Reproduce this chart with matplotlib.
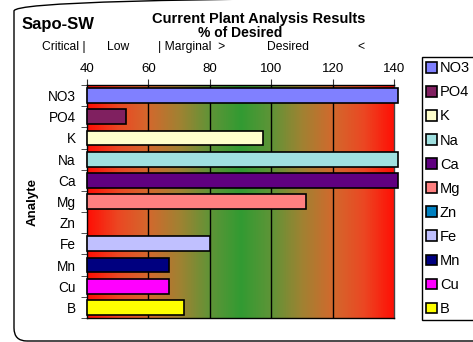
import numpy as np
import matplotlib
matplotlib.use("Agg")
import matplotlib.pyplot as plt
from matplotlib.colors import LinearSegmentedColormap
from matplotlib.patches import FancyBboxPatch

plt.rcParams['font.family'] = ['Liberation Sans', 'DejaVu Sans']

analytes = ["NO3", "PO4", "K", "Na", "Ca", "Mg", "Zn", "Fe", "Mn", "Cu", "B"]
pct_desired = [141.3, 52.7, 97.2, 141.3, 141.3, 111.4, np.nan, 80.0, 66.8, 66.6, 71.7]
bar_colors = ["#8080FF", "#802060", "#FFFFCC", "#A0E0E0", "#600080", "#FF8080",
              "#0080C0", "#C0C0FF", "#000080", "#FF00FF", "#FFFF00"]
xticks = [40, 60, 80, 100, 120, 140]
x_min = 40

# red -> green -> red background, peak at 90
stops = [(0.0, (255, 15, 5)), (0.1, (235, 72, 35)), (0.2, (210, 105, 45)),
         (0.3, (160, 130, 50)), (0.4, (95, 148, 55)), (0.5, (50, 155, 50)),
         (0.6, (95, 148, 55)), (0.7, (160, 130, 50)), (0.8, (210, 105, 45)),
         (0.9, (235, 72, 35)), (1.0, (255, 15, 5))]
cmap = LinearSegmentedColormap.from_list("bg", [(p, tuple(c / 255 for c in col)) for p, col in stops])

fig = plt.figure(figsize=(4.73, 3.42), dpi=100)

# overlay in pixel units for the rounded chart border
bg = fig.add_axes([0, 0, 1, 1])
bg.set_xlim(0, 473)
bg.set_ylim(0, 342)
bg.axis("off")
bg.add_patch(FancyBboxPatch((14, 1), 480, 343, boxstyle="round,pad=0,rounding_size=13",
                            fill=False, edgecolor="black", lw=1, clip_on=False))

ax = fig.add_axes([87 / 473, 24 / 342, 307 / 473, 233 / 342])

n = len(analytes)
ax.imshow(np.linspace(0, 1, 400).reshape(1, -1), cmap=cmap, aspect="auto",
          extent=[40, 140, n - 0.5, -0.5], zorder=0)

y = np.arange(n)
widths = [v - x_min for v in pct_desired]
bars = ax.barh(y, widths, left=x_min, height=0.7, color=bar_colors,
               edgecolor="black", linewidth=1.2, zorder=3)
for b in bars:
    b.set_clip_on(False)

for xv in xticks[1:-1]:
    ax.axvline(xv, color="black", lw=1, zorder=2)

ax.set_xlim(40, 140)
ax.set_ylim(n - 0.5, -0.5)
ax.xaxis.tick_top()
ax.set_xticks(xticks)
ax.tick_params(axis="x", labelsize=9.5, length=4, color="#333333", pad=3)
ax.set_yticks(y)
ax.set_yticklabels(analytes)
ax.set_yticks(np.arange(n + 1) - 0.5, minor=True)
ax.tick_params(axis="y", which="major", length=0, labelsize=9.8, pad=8)
ax.tick_params(axis="y", which="minor", length=4, color="#333333")
for s in ax.spines.values():
    s.set_color("black")
    s.set_linewidth(1)
ax.spines["right"].set_color("#444444")

fig.text(33 / 473, 1 - 202 / 342, "Analyte", rotation=90, fontsize=9.5, fontweight="bold",
         ha="center", va="center")
fig.text(22 / 473, 1 - 25 / 342, "Sapo-SW", fontsize=12, fontweight="bold", va="center")
fig.text(259 / 473, 1 - 19 / 342, "Current Plant Analysis Results", fontsize=10.5,
         fontweight="bold", ha="center", va="center")
fig.text(240 / 473, 1 - 33 / 342, "% of Desired", fontsize=10, fontweight="bold",
         ha="center", va="center")
zones = [("Critical |", 42), ("Low", 107), ("| Marginal  >", 158), ("Desired", 267), ("<", 357)]
for txt, px in zones:
    fig.text(px / 473, 1 - 47 / 342, txt, fontsize=8.7, ha="left", va="center")

leg = fig.legend(bars, analytes, loc="upper left", bbox_to_anchor=(422 / 473, 1 - 57 / 342),
                 fontsize=10.5, frameon=True, fancybox=False, edgecolor="black",
                 framealpha=1, handlelength=0.73, handleheight=0.73, handletextpad=0.2,
                 labelspacing=0.69, borderpad=0.3, borderaxespad=0)
leg.get_frame().set_linewidth(1)

fig.savefig("out.png", dpi=100)
